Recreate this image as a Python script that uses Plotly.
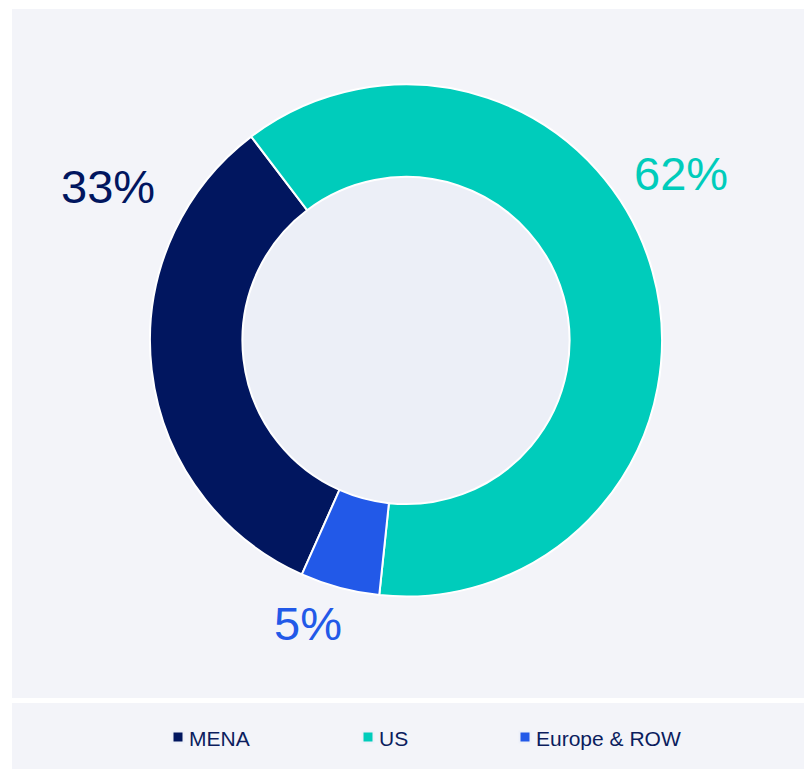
import plotly.graph_objects as go

# Revenue split by region
regions = ["MENA", "US", "Europe & ROW"]
shares = [33, 62, 5]
colors = ["#01165f", "#00ccbb", "#2259e8"]

W, H = 804, 769
PANEL = "#f3f4f9"
HOLE_FILL = "#eceff7"
TEXT_NAVY = "#0b1d5e"

# donut geometry (pixels)
cx, cy, r_out = 406, 340.5, 256
hole = 0.639


def px(x):
    return x / W


def py(y):
    return 1 - y / H


fig = go.Figure(
    go.Pie(
        labels=regions,
        values=shares,
        marker=dict(colors=colors, line=dict(color="#ffffff", width=2)),
        hole=hole,
        sort=False,
        direction="clockwise",
        rotation=204,
        textinfo="none",
        hoverinfo="label+percent",
        showlegend=False,
        domain=dict(
            x=[px(cx - r_out), px(cx + r_out)],
            y=[py(cy + r_out), py(cy - r_out)],
        ),
    )
)

shapes = [
    # chart panel
    dict(type="rect", xref="paper", yref="paper", x0=px(12), x1=1, y0=py(698), y1=py(9),
         fillcolor=PANEL, line=dict(width=0), layer="below"),
    # legend panel
    dict(type="rect", xref="paper", yref="paper", x0=px(12), x1=1, y0=0, y1=py(703),
         fillcolor=PANEL, line=dict(width=0), layer="below"),
    # donut centre
    dict(type="circle", xref="paper", yref="paper",
         x0=px(cx - r_out * hole), x1=px(cx + r_out * hole),
         y0=py(cy + r_out * hole), y1=py(cy - r_out * hole),
         fillcolor=HOLE_FILL, line=dict(width=0), layer="below"),
]

annotations = []

# percentage labels outside the ring
label_pos = [(108, 187), (681, 174), (308, 623)]
for v, c, (lx, ly) in zip(shares, colors, label_pos):
    annotations.append(dict(
        text=f"{v}%", x=px(lx), y=py(ly), xref="paper", yref="paper",
        xanchor="center", yanchor="middle", showarrow=False,
        font=dict(family="Liberation Sans, Arial, sans-serif", size=47, color=c),
    ))

# legend row
legend_y = 737
legend_x = [178, 368, 525]
sq = 4.5
for name, c, lx in zip(regions, colors, legend_x):
    shapes.append(dict(type="rect", xref="paper", yref="paper",
                       x0=px(lx - 6.5), x1=px(lx + 6.5),
                       y0=py(legend_y + 6.5), y1=py(legend_y - 6.5),
                       fillcolor="#edf0f8", line=dict(width=0)))
    shapes.append(dict(type="rect", xref="paper", yref="paper",
                       x0=px(lx - sq), x1=px(lx + sq),
                       y0=py(legend_y + sq), y1=py(legend_y - sq),
                       fillcolor=c, line=dict(width=0)))
    annotations.append(dict(
        text=name, x=px(lx + 9), y=py(legend_y + 1), xref="paper", yref="paper",
        xanchor="left", yanchor="middle", showarrow=False,
        font=dict(family="Liberation Sans, Arial, sans-serif", size=21, color=TEXT_NAVY),
    ))

fig.update_layout(
    width=W, height=H,
    margin=dict(l=0, r=0, t=0, b=0),
    paper_bgcolor="#ffffff",
    plot_bgcolor="#ffffff",
    shapes=shapes,
    annotations=annotations,
    showlegend=False,
)

fig.write_html("out.html")
